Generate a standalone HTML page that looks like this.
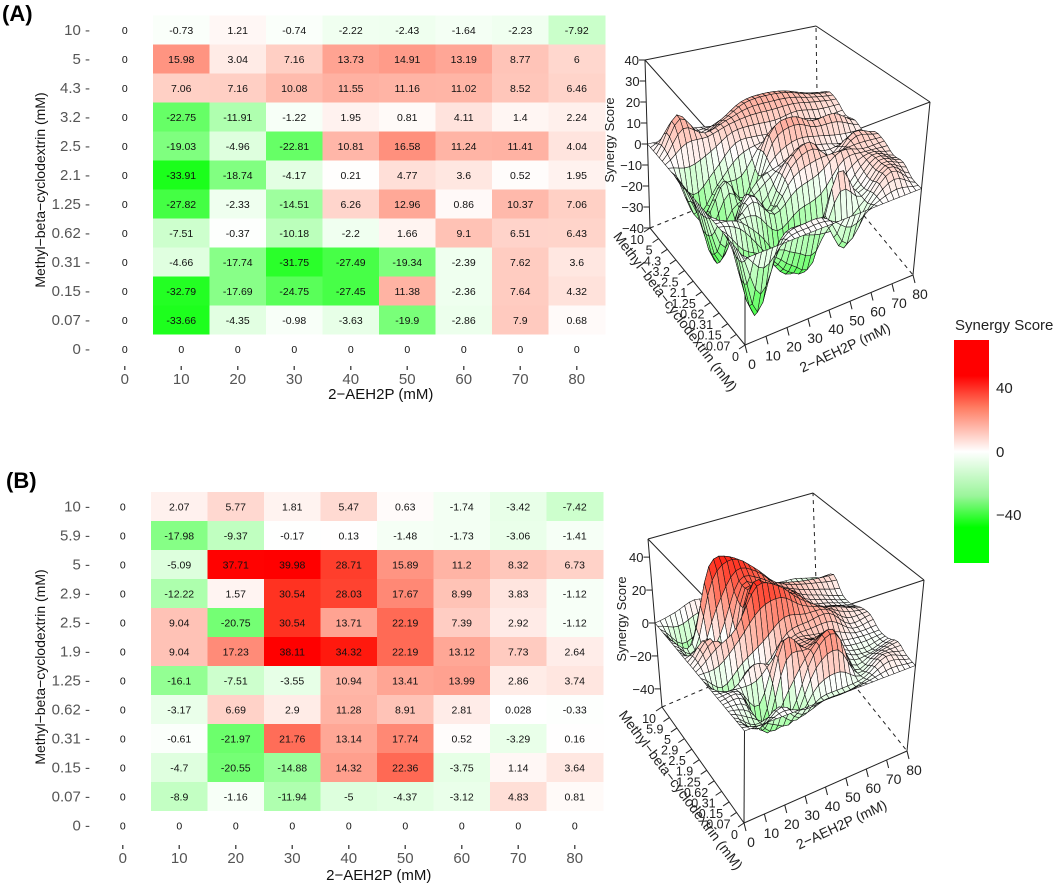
<!DOCTYPE html>
<html><head><meta charset="utf-8">
<style>
html,body{margin:0;padding:0;background:#fff;}
svg{display:block;font-family:"Liberation Sans",Arial,sans-serif;}
</style></head>
<body>
<svg id="fig" width="1059" height="886" viewBox="0 0 1059 886" xmlns="http://www.w3.org/2000/svg">
<defs>
<linearGradient id="cbar" x1="0" y1="0" x2="0" y2="1">
<stop offset="0" stop-color="#ff0000"/>
<stop offset="0.16" stop-color="#ff0000"/>
<stop offset="0.3" stop-color="#ff7a60"/>
<stop offset="0.5" stop-color="#ffffff"/>
<stop offset="0.7" stop-color="#9af59a"/>
<stop offset="0.84" stop-color="#00ff00"/>
<stop offset="1" stop-color="#00ff00"/>
</linearGradient>
</defs>
<text x="2" y="21" font-size="22" font-weight="bold">(A)</text>
<text x="6" y="488" font-size="22" font-weight="bold">(B)</text>
<g id="layer"></g>
<g>
<text x="955" y="330" font-size="15" fill="#222">Synergy Score</text>
<rect x="954" y="340" width="35" height="223" fill="url(#cbar)"/>
<text x="996" y="393" font-size="15" fill="#222">40</text>
<text x="996" y="457" font-size="15" fill="#222">0</text>
<text x="996" y="520" font-size="15" fill="#222">−40</text>
</g>
</svg>
<script>
const xCats = ["0","10","20","30","40","50","60","70","80"];
const yCatsA = ["10","5","4.3","3.2","2.5","2.1","1.25","0.62","0.31","0.15","0.07","0"];
const yCatsB = ["10","5.9","5","2.9","2.5","1.9","1.25","0.62","0.31","0.15","0.07","0"];
const valuesA = [
[0,-0.73,1.21,-0.74,-2.22,-2.43,-1.64,-2.23,-7.92],
[0,15.98,3.04,7.16,13.73,14.91,13.19,8.77,6],
[0,7.06,7.16,10.08,11.55,11.16,11.02,8.52,6.46],
[0,-22.75,-11.91,-1.22,1.95,0.81,4.11,1.4,2.24],
[0,-19.03,-4.96,-22.81,10.81,16.58,11.24,11.41,4.04],
[0,-33.91,-18.74,-4.17,0.21,4.77,3.6,0.52,1.95],
[0,-27.82,-2.33,-14.51,6.26,12.96,0.86,10.37,7.06],
[0,-7.51,-0.37,-10.18,-2.2,1.66,9.1,6.51,6.43],
[0,-4.66,-17.74,-31.75,-27.49,-19.34,-2.39,7.62,3.6],
[0,-32.79,-17.69,-24.75,-27.45,11.38,-2.36,7.64,4.32],
[0,-33.66,-4.35,-0.98,-3.63,-19.9,-2.86,7.9,0.68],
[0,0,0,0,0,0,0,0,0]];
const valuesB = [
[0,2.07,5.77,1.81,5.47,0.63,-1.74,-3.42,-7.42],
[0,-17.98,-9.37,-0.17,0.13,-1.48,-1.73,-3.06,-1.41],
[0,-5.09,37.71,39.98,28.71,15.89,11.2,8.32,6.73],
[0,-12.22,1.57,30.54,28.03,17.67,8.99,3.83,-1.12],
[0,9.04,-20.75,30.54,13.71,22.19,7.39,2.92,-1.12],
[0,9.04,17.23,38.11,34.32,22.19,13.12,7.73,2.64],
[0,-16.1,-7.51,-3.55,10.94,13.41,13.99,2.86,3.74],
[0,-3.17,6.69,2.9,11.28,8.91,2.81,0.028,-0.33],
[0,-0.61,-21.97,21.76,13.14,17.74,0.52,-3.29,0.16],
[0,-4.7,-20.55,-14.88,14.32,22.36,-3.75,1.14,3.64],
[0,-8.9,-1.16,-11.94,-5,-4.37,-3.12,4.83,0.81],
[0,0,0,0,0,0,0,0,0]];
const zTicksA = [-40,-30,-20,-10,0,10,20,30,40];
const zTicksB = [-40,-20,0,20,40];

const NS="http://www.w3.org/2000/svg";
const layer=document.getElementById('layer');
function mk(tag,attrs,parent,txt){const e=document.createElementNS(NS,tag);for(const k in attrs)e.setAttribute(k,attrs[k]);if(txt!==undefined)e.textContent=txt;(parent||layer).appendChild(e);return e;}

function colorFor(v,scale){
  let t=Math.min(Math.abs(v)/scale,1);
  if(v>=0){const g=Math.round(255*(1-t));const b=Math.round(255*Math.pow(1-t,1.25));return `rgb(255,${g},${b})`;}
  const c=Math.round(255*(1-t));return `rgb(${c},255,${c})`;
}

function heatmap(name,vals,yCats,x0,yTop,cw,ch,tickY,titleY,yTitleY){
  const g=mk('g',{});
  
  
  const colX=i=>x0+(i-1)*cw;
  const rowY=j=>yTop+j*ch;
  for(let j=0;j<yCats.length;j++){
    for(let i=0;i<xCats.length;i++){
      const v=vals[j][i];
      const r=mk('rect',{x:colX(i),y:rowY(j),width:cw+0.5,height:ch+0.5,fill:colorFor(v,38)},g);
      
      
      const t=mk('text',{x:colX(i)+cw/2,y:rowY(j)+ch/2+4,'font-size':10.5,'text-anchor':'middle',fill:'#111'},g,String(v));
      
      
    }
    const yl=mk('text',{x:90,y:rowY(j)+ch/2+5,'font-size':15,'text-anchor':'end',fill:'#555'},g,yCats[j]+' -');
    
    
  }
  for(let i=0;i<xCats.length;i++){
    const cx=colX(i)+cw/2;
    mk('line',{x1:cx,y1:tickY-12,x2:cx,y2:tickY-8,stroke:'#555','stroke-width':1.5},g);
    const xl=mk('text',{x:cx,y:tickY+6,'font-size':15,'text-anchor':'middle',fill:'#555'},g,xCats[i]);
    
    
  }
  const xt=mk('text',{x:x0+4*cw-cw/2+30,y:titleY,'font-size':15,'text-anchor':'middle',fill:'#111'},g,'2\u2212AEH2P (mM)');
  
  
  const yt=mk('text',{x:0,y:0,'font-size':14,'text-anchor':'middle',fill:'#111',transform:`translate(45,${yTitleY}) rotate(-90)`},g,'Methyl\u2212beta\u2212cyclodextrin (mM)');
  
  
}
heatmap('heatmap-a',valuesA,yCatsA,153,15.5,56.5,29,378,399,190);
heatmap('heatmap-b',valuesB,yCatsB,151,492,56.5,29,857,880,667);

function cr(p0,p1,p2,p3,t){return 0.5*((2*p1)+(-p0+p2)*t+(2*p0-5*p1+4*p2-p3)*t*t+(-p0+3*p1-3*p2+p3)*t*t*t);}
function sampleGrid(vals){
  const rows=vals.slice().reverse(); const ny=rows.length, nx=rows[0].length;
  const at=(j,i)=>rows[Math.max(0,Math.min(ny-1,j))][Math.max(0,Math.min(nx-1,i))];
  return function(fu,fv){
    const i=Math.min(Math.floor(fu),nx-2), j=Math.min(Math.floor(fv),ny-2);
    const tu=fu-i, tv=fv-j; const col=[];
    for(let k=-1;k<3;k++) col.push(cr(at(j+k,i-1),at(j+k,i),at(j+k,i+1),at(j+k,i+2),tu));
    return cr(col[0],col[1],col[2],col[3],tv);
  };
}
function surface3d(name,vals,yCats,zTicks,zmin,zmax,B,T){
  const g=mk('g',{});
  
  
  const bil=(C,u,v)=>[
    C.f[0]*(1-u)*(1-v)+C.r[0]*u*(1-v)+C.l[0]*(1-u)*v+C.b[0]*u*v,
    C.f[1]*(1-u)*(1-v)+C.r[1]*u*(1-v)+C.l[1]*(1-u)*v+C.b[1]*u*v];
  const proj=(u,v,z)=>{const a=bil(B,u,v),b=bil(T,u,v);const f=(z-zmin)/(zmax-zmin);return [a[0]+f*(b[0]-a[0]),a[1]+f*(b[1]-a[1])];};
  const L=(p,q,dash)=>mk('line',{x1:p[0],y1:p[1],x2:q[0],y2:q[1],stroke:'#222','stroke-width':1,'stroke-dasharray':dash?'4,4':'none'},g);
  L(B.l,B.b,true);L(B.b,B.r,true);L(B.b,T.b,true);
  L(T.l,T.b);L(T.b,T.r);L(T.l,T.f);L(T.f,T.r);L(T.l,B.l);L(T.r,B.r);L(T.f,B.f);L(B.f,B.l);L(B.f,B.r);
  const nx=xCats.length, ny=yCats.length, f=sampleGrid(vals);
  const SU=32, SV=33;
  const Z=[];for(let a=0;a<=SV;a++){Z.push([]);for(let b=0;b<=SU;b++)Z[a].push(f(b/SU*(nx-1),a/SV*(ny-1)));}
  const quads=[];
  for(let a=0;a<SV;a++)for(let b=0;b<SU;b++)quads.push([a,b]);
  quads.sort((p,q)=>((q[0]/SV+q[1]/SU)-(p[0]/SV+p[1]/SU)));
  const sg=mk('g',{},g);
  
  
  for(const [a,b] of quads){
    const pts=[[b,a],[b+1,a],[b+1,a+1],[b,a+1]].map(([bb,aa])=>proj(bb/SU,aa/SV,Z[aa][bb]));
    const zc=(Z[a][b]+Z[a][b+1]+Z[a+1][b]+Z[a+1][b+1])/4;
    const p=mk('polygon',{points:pts.map(p=>p[0].toFixed(1)+','+p[1].toFixed(1)).join(' '),fill:colorFor(zc,48),stroke:'#111','stroke-width':0.55},sg);
    
    
  }
  for(const z of zTicks){
    const p=proj(0,1,z);
    mk('line',{x1:p[0]-6,y1:p[1],x2:p[0],y2:p[1],stroke:'#222'},g);
    const t=mk('text',{x:p[0]-6,y:p[1]+5,'font-size':13,'text-anchor':'end',fill:'#222'},g,String(z).replace('-','\u2212'));
    
    
  }
  for(let i=0;i<nx;i++){
    const p=bil(B,i/(nx-1),0);
    mk('line',{x1:p[0],y1:p[1],x2:p[0]+2,y2:p[1]+8,stroke:'#222'},g);
    const t=mk('text',{x:p[0]+7,y:p[1]+24,'font-size':14,'text-anchor':'middle',fill:'#222'},g,xCats[i]);
    
    
  }
  const yc=yCats.slice().reverse();
  for(let j=0;j<ny;j++){
    const p=bil(B,0,j/(ny-1));
    mk('line',{x1:p[0],y1:p[1],x2:p[0]-6,y2:p[1]+4,stroke:'#222'},g);
    const t=mk('text',{x:p[0]-6,y:p[1]+16,'font-size':12.5,'text-anchor':'end',fill:'#222'},g,yc[j]);
    
    
  }
  const zl=bil(B,0,1);
  const zt=mk('text',{x:0,y:0,'font-size':13,'text-anchor':'middle',fill:'#222',transform:`translate(${zl[0]-36},${(zl[1]+T.l[1])/2-4}) rotate(-90)`},g,'Synergy Score');
  
  
  const yt=mk('text',{x:0,y:0,'font-size':14,'text-anchor':'middle',fill:'#222',transform:`translate(${(B.f[0]+B.l[0])/2-26},${(B.f[1]+B.l[1])/2+28}) rotate(53)`},g,'Methyl\u2212beta\u2212cyclodextrin (mM)');
  
  
  const xt=mk('text',{x:0,y:0,'font-size':14,'text-anchor':'middle',fill:'#222',transform:`translate(${(B.f[0]+B.r[0])/2+18},${(B.f[1]+B.r[1])/2+42}) rotate(-25)`},g,'2\u2212AEH2P (mM)');
  
  
}
surface3d('surface-3d-a',valuesA,yCatsA,zTicksA,-40,40,
  {f:[745,345],l:[650,228],r:[913,275],b:[818,160]},
  {f:[745,172],l:[645,60],r:[930,102],b:[816,26]});
surface3d('surface-3d-b',valuesB,yCatsB,zTicksB,-51,51,
  {f:[744,823],l:[662,707],r:[907,751],b:[818,640]},
  {f:[745,639],l:[648,539],r:[924,580],b:[813,493]});
</script>
</body></html>
